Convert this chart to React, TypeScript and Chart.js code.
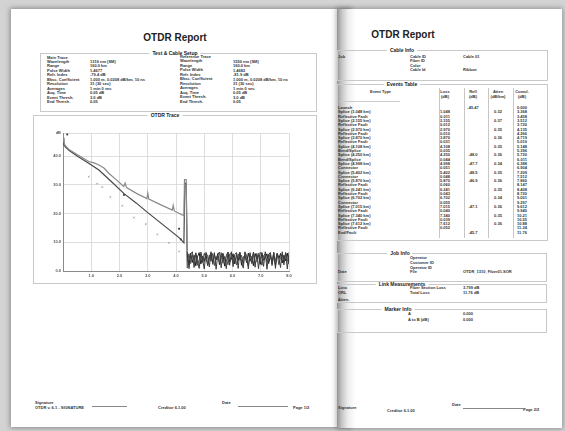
import React, { useEffect, useRef } from "react";
import { Chart, registerables } from "chart.js";

Chart.register(...registerables);

// ---------- OTDR trace data (distance km / level dB) ----------
const upperDistanceKm = [0, 0.03, 0.08, 0.21, 0.5, 0.91, 1.1, 1.27, 1.45, 1.62, 1.9, 2.15, 2.2, 2.25, 2.6, 2.97, 3.0, 3.04, 3.45, 3.87, 3.9, 3.94, 4.1, 4.28, 4.30, 4.36, 4.40];
const upperLossDb = [46.5, 44.8, 43.6, 42.3, 40.5, 38.1, 37.6, 36.9, 35.8, 34.0, 31.6, 29.4, 30.6, 29.0, 27.0, 25.2, 27.1, 25.0, 23.1, 21.2, 22.8, 20.9, 20.1, 19.2, 31.8, 31.8, 4.0];

const lowerDistanceKm = [0, 0.03, 0.08, 0.21, 0.5, 0.91, 1.27, 1.7, 2.16, 2.6, 2.99, 3.5, 4.11, 4.28, 4.31, 4.36, 4.40];
const lowerLossDb = [46.0, 44.0, 43.2, 42.0, 40.0, 37.5, 35.1, 31.2, 26.9, 23.6, 20.4, 16.4, 11.6, 9.8, 30.5, 30.5, 1.0];

const noiseDistanceKm = [4.40, 4.46, 4.52, 4.58, 4.64, 4.70, 4.76, 4.82, 4.88, 4.94, 5.00, 5.06, 5.12, 5.18, 5.24, 5.30, 5.36, 5.42, 5.48, 5.54, 5.60, 5.66, 5.72, 5.78, 5.84, 5.90, 5.96, 6.02, 6.08, 6.14, 6.20, 6.26, 6.32, 6.38, 6.44, 6.50, 6.56, 6.62, 6.68, 6.74, 6.80, 6.86, 6.92, 6.98, 7.04, 7.10, 7.16, 7.22, 7.28, 7.34, 7.40, 7.46, 7.52, 7.58, 7.64, 7.70, 7.76, 7.82, 7.88, 7.94, 8.00, 8.06];
const noiseTraceA = [5.8, 2.1, 6.2, 3.0, 5.5, 1.8, 4.9, 6.4, 2.4, 5.1, 3.3, 6.0, 1.9, 4.4, 6.3, 2.7, 5.6, 3.8, 6.1, 2.2, 4.7, 5.9, 1.7, 5.3, 6.5, 3.1, 4.2, 6.0, 2.5, 5.7, 3.6, 6.3, 2.0, 4.8, 5.4, 2.9, 6.2, 3.4, 5.0, 1.8, 6.1, 4.1, 5.6, 2.3, 6.4, 3.7, 4.6, 6.0, 2.6, 5.2, 3.2, 6.3, 1.9, 5.8, 4.3, 6.1, 2.8, 5.5, 3.5, 6.2, 2.4, 5.9];
const noiseTraceB = [3.2, 6.0, 2.6, 5.4, 4.1, 6.3, 2.0, 3.9, 5.8, 2.9, 6.2, 4.5, 2.3, 5.6, 3.4, 6.1, 1.9, 4.8, 5.2, 3.0, 6.4, 2.7, 5.0, 3.8, 2.2, 5.9, 6.2, 3.3, 4.6, 2.1, 6.0, 4.0, 5.5, 2.5, 6.3, 3.6, 1.8, 5.7, 4.4, 6.1, 2.8, 3.5, 6.2, 4.9, 2.0, 5.3, 6.0, 3.1, 4.2, 6.4, 2.4, 5.1, 3.7, 6.1, 2.2, 4.7, 5.8, 3.0, 6.3, 4.0, 2.6, 5.6];
const noiseTraceC = [6.6, 0.8, 5.9, 6.7, 1.2, 6.3, 3.4, 0.9, 6.6, 4.2, 0.7, 6.5, 5.1, 1.4, 6.7, 2.3, 6.4, 0.6, 5.7, 6.6, 1.1, 6.2, 4.4, 0.8, 6.5, 2.0, 6.7, 1.5, 5.8, 6.4, 0.9, 6.6, 3.2, 1.0, 6.7, 5.3, 0.7, 6.4, 2.6, 6.6, 1.3, 6.1, 0.8, 6.5, 5.6, 1.6, 6.7, 0.6, 5.9, 6.3, 1.9, 6.6, 0.9, 6.2, 4.8, 1.2, 6.7, 2.1, 6.4, 0.7, 6.5, 3.9];

const eventMarkerKm = [0.91, 1.21, 1.39, 1.68, 2.10, 2.51, 2.93, 3.34, 3.75, 4.11];
const eventMarkerDb = [32.8, 30.4, 29.2, 25.7, 22.7, 18.6, 16.3, 12.7, 9.8, 6.8];
const cursorKm = [0.15, 2.16, 4.11, 4.17];
const cursorDb = [47.5, 26.5, 14.7, 11.0];

const xTickValues = [0, 1, 2, 3, 4, 5, 6, 7, 8];
const yTickValues = [0, 10, 20, 30, 40];
const yAxisTop = 48;
const yAxisUnit = "dB";

// ---------- report texts ----------
const setupLeftLabels = ["Main Trace", "Wavelength", "Range", "Pulse Width", "Refr. Index", "Bksc. Coefficient", "Resolution", "Averages", "Acq. Time", "Event Thresh.", "End Thresh."];
const setupLeftValues = ["", "1310 nm (SM)", "160.0 km", "1.4677", "-79.4 dB", "1.000 m, 0.0208 dB/km, 10 ns", "31 (30 sec)", "1 min 0 sec", "0.05 dB", "3.0 dB", "0.05"];
const setupRightLabels = ["Reference Trace", "Wavelength", "Range", "Pulse Width", "Refr. Index", "Bksc. Coefficient", "Resolution", "Averages", "Acq. Time", "Event Thresh.", "End Thresh."];
const setupRightValues = ["", "1550 nm (SM)", "160.0 km", "1.4682", "-81.9 dB", "1.000 m, 0.0208 dB/km, 10 ns", "31 (30 sec)", "1 min 0 sec", "0.05 dB", "3.0 dB", "0.05"];

const eventTypes = ["Launch", "Splice (1.048 km)", "Reflective Fault", "Splice (2.155 km)", "Reflective Fault", "Splice (2.970 km)", "Reflective Fault", "Splice (3.870 km)", "Reflective Fault", "Splice (4.108 km)", "Bend/Splice", "Splice (4.250 km)", "Bend/Splice", "Splice (4.998 km)", "Connector", "Splice (5.402 km)", "Connector", "Splice (5.870 km)", "Reflective Fault", "Splice (6.241 km)", "Reflective Fault", "Splice (6.702 km)", "Connector", "Splice (7.015 km)", "Reflective Fault", "Splice (7.340 km)", "Reflective Fault", "Splice (7.612 km)", "Reflective Fault", "End/Fault"];
const eventLoss = ["", "1.048", "0.011", "2.155", "0.012", "2.970", "0.010", "3.870", "0.031", "4.108", "0.035", "4.250", "0.044", "4.998", "0.051", "5.402", "0.048", "5.870", "0.060", "6.241", "0.043", "6.702", "0.055", "7.015", "0.040", "7.340", "0.039", "7.612", "0.052", ""];
const eventRefl = ["-45.47", "", "", "", "", "", "", "", "", "", "", "-48.0", "", "-47.7", "", "-48.5", "", "-46.9", "", "", "", "", "", "-47.1", "", "", "", "", "", "-45.7"];
const eventAtten = ["", "0.32", "", "0.37", "", "0.35", "", "0.36", "", "0.35", "", "0.36", "", "0.34", "", "0.35", "", "0.36", "", "0.35", "", "0.34", "", "0.36", "", "0.35", "", "0.36", "", ""];
const eventCumul = ["0.000", "3.368", "3.458", "3.512", "3.720", "4.135", "4.266", "4.719", "5.010", "5.148", "5.396", "5.720", "6.011", "6.388", "6.904", "7.209", "7.512", "7.860", "8.147", "8.408", "8.720", "9.001", "9.297", "9.612", "9.940", "10.21", "10.55", "10.88", "11.24", "11.76"];

type TProps = { x: number; y: number; s?: number; w?: number; c?: string; center?: boolean; children?: React.ReactNode };
function T({ x, y, s = 4, w = 700, c = "#333", center = false, children }: TProps) {
  return (
    <div
      style={{
        position: "absolute",
        left: x,
        top: y,
        fontSize: s,
        fontWeight: w,
        color: c,
        lineHeight: 1,
        whiteSpace: "nowrap",
        transform: center ? "translateX(-50%)" : undefined,
      }}
    >
      {children}
    </div>
  );
}

function Box({ x, y, w, h, title, tx }: { x: number; y: number; w: number; h: number; title: string; tx: number }) {
  return (
    <>
      <div style={{ position: "absolute", left: x, top: y, width: w, height: h, border: "1px solid #c9c9c9", boxSizing: "border-box" }} />
      <div
        style={{
          position: "absolute",
          left: tx,
          top: y - 2.5,
          transform: "translateX(-50%)",
          background: "#fff",
          padding: "0 3px",
          fontSize: 5,
          fontWeight: 700,
          color: "#222",
          lineHeight: 1,
          whiteSpace: "nowrap",
        }}
      >
        {title}
      </div>
    </>
  );
}

function Line({ x, y, w, h = 1, c = "#bbb" }: { x: number; y: number; w: number; h?: number; c?: string }) {
  return <div style={{ position: "absolute", left: x, top: y, width: w, height: h, background: c }} />;
}

function TraceChart() {
  const ref = useRef<HTMLCanvasElement>(null);
  useEffect(() => {
    const pts = (xs: number[], ys: number[]) => xs.map((x, i) => ({ x, y: ys[i] }));
    const chart = new Chart(ref.current as HTMLCanvasElement, {
      type: "scatter",
      data: {
        datasets: [
          { data: pts(noiseDistanceKm, noiseTraceC), showLine: true, borderColor: "#3c3c3c", borderWidth: 1, pointRadius: 0 },
          { data: pts(noiseDistanceKm, noiseTraceB), showLine: true, borderColor: "#4a4a4a", borderWidth: 1, pointRadius: 0 },
          { data: pts(noiseDistanceKm, noiseTraceA), showLine: true, borderColor: "#1a1a1a", borderWidth: 1, pointRadius: 0 },
          { data: pts(upperDistanceKm, upperLossDb), showLine: true, borderColor: "#8a8a8a", borderWidth: 1.2, pointRadius: 0 },
          { data: pts(lowerDistanceKm, lowerLossDb), showLine: true, borderColor: "#474747", borderWidth: 1.2, pointRadius: 0 },
          { data: pts(eventMarkerKm, eventMarkerDb), showLine: false, pointStyle: "crossRot", pointRadius: 1.1, borderColor: "#9a9a9a", borderWidth: 0.8 },
          { data: pts(cursorKm, cursorDb), showLine: false, pointStyle: "rect", pointRadius: 1.3, backgroundColor: "#333", borderColor: "#333", borderWidth: 0 },
        ],
      } as any,
      options: {
        animation: false,
        responsive: false,
        maintainAspectRatio: false,
        layout: { padding: { left: 0, top: 13, right: 26, bottom: 0 } },
        plugins: { legend: { display: false }, tooltip: { enabled: false } },
        scales: {
          x: {
            type: "linear",
            min: 0,
            max: 8,
            afterBuildTicks: (s: any) => {
              s.ticks = xTickValues.map((v) => ({ value: v }));
            },
            afterFit: (s: any) => {
              s.height = 9;
            },
            ticks: {
              autoSkip: false,
              maxRotation: 0,
              padding: 2,
              color: "#555",
              font: { size: 4, weight: "bold", family: "Liberation Sans" },
              callback: (v: any) => (Number(v) === 0 ? "" : Number(v).toFixed(1)),
            },
            grid: { color: "#d6d6d6", lineWidth: 0.8, drawTicks: false },
            border: { color: "#8a8a8a", width: 1 },
          },
          y: {
            type: "linear",
            min: 0,
            max: yAxisTop,
            afterBuildTicks: (s: any) => {
              s.ticks = [...yTickValues, yAxisTop].map((v) => ({ value: v }));
            },
            afterFit: (s: any) => {
              s.width = 28;
            },
            ticks: {
              autoSkip: false,
              padding: 2,
              color: "#555",
              font: { size: 4, weight: "bold", family: "Liberation Sans" },
              callback: (v: any) => (Number(v) === yAxisTop ? yAxisUnit : Number(v).toFixed(1)),
            },
            grid: { color: "#d6d6d6", lineWidth: 0.8, drawTicks: false },
            border: { color: "#8a8a8a", width: 1 },
          },
        },
      } as any,
    });
    return () => chart.destroy();
  }, []);
  return <canvas ref={ref} width={280} height={160} style={{ position: "absolute", left: 35, top: 120, width: 280, height: 160 }} />;
}

export default function App() {
  const rowH = 4.45;
  const evH = 4.3;
  return (
    <div
      style={{
        position: "fixed",
        left: 0,
        top: 0,
        width: 565,
        height: 431,
        overflow: "hidden",
        background: "#d3d3d3",
        fontFamily: "'Liberation Sans', Arial, sans-serif",
        filter: "blur(0.45px)",
      }}
    >
      {/* left page */}
      <div style={{ position: "absolute", left: 11, top: 9, width: 340, height: 418, background: "#fff", boxShadow: "0 0 5px 1px rgba(0,0,0,0.35)" }} />
      <T x={175} y={33} s={10} center c="#222">OTDR Report</T>
      <Box x={40} y={53} w={277} h={59} title="Test & Cable Setup" tx={175} />
      {setupLeftLabels.map((l, i) => (
        <T key={"ll" + i} x={47} y={55.5 + i * rowH}>{l}</T>
      ))}
      {setupLeftValues.map((v, i) => (
        <T key={"lv" + i} x={90} y={55.5 + i * rowH}>{v}</T>
      ))}
      {setupRightLabels.map((l, i) => (
        <T key={"rl" + i} x={180} y={55 + i * rowH}>{l}</T>
      ))}
      {setupRightValues.map((v, i) => (
        <T key={"rv" + i} x={233} y={55.5 + i * rowH}>{v}</T>
      ))}
      <Box x={33} y={115} w={284} h={169} title="OTDR Trace" tx={165} />
      <TraceChart />
      {/* left footer */}
      <T x={35} y={401}>Signature</T>
      <T x={35} y={405.5}>OTDR v. 6.1 - SIGNATURE</T>
      <Line x={92} y={405.5} w={35} c="#888" />
      <T x={158} y={406}>Creditor 6.1.00</T>
      <T x={222} y={401}>Date</T>
      <Line x={238} y={405.5} w={50} c="#888" />
      <T x={293} y={406}>Page 1/2</T>

      {/* right page */}
      <div style={{ position: "absolute", left: 337, top: 9, width: 225, height: 419, background: "#fff", boxShadow: "0 0 5px 1px rgba(0,0,0,0.3)" }} />
      <div
        style={{
          position: "absolute",
          left: 337,
          top: 9,
          width: 20,
          height: 419,
          background: "linear-gradient(to right, rgba(0,0,0,0.42) 0px, rgba(0,0,0,0.22) 5px, rgba(0,0,0,0.07) 11px, rgba(0,0,0,0) 19px)",
        }}
      />
      <T x={403} y={30} s={10} center c="#222">OTDR Report</T>

      <Box x={337} y={50} w={211} h={31} title="Cable Info" tx={402} />
      <T x={338} y={54.5}>Job</T>
      <T x={410} y={54.5}>Cable ID</T>
      <T x={463} y={54.5}>Cable 01</T>
      <T x={410} y={59}>Fiber ID</T>
      <T x={410} y={63.5}>Color</T>
      <T x={410} y={68}>Cable Id</T>
      <T x={463} y={68}>Ribbon</T>

      <Box x={337} y={84} w={211} h={157} title="Events Table" tx={402} />
      <T x={370} y={90}>Event Type</T>
      {[
        ["Loss", "(dB)", 445],
        ["Refl", "(dB)", 473],
        ["Atten", "(dB/km)", 498],
        ["Cumul.", "(dB)", 522],
      ].map(([a, b, x]) => (
        <React.Fragment key={String(a)}>
          <T x={x as number} y={90} center>{a}</T>
          <T x={x as number} y={95} center>{b}</T>
        </React.Fragment>
      ))}
      <Line x={340} y={101} w={60} c="#ccc" />
      {[439, 464, 488, 513].map((x) => (
        <div key={x} style={{ position: "absolute", left: x, top: 88, width: 1, height: 150, background: "#c6c6c6" }} />
      ))}
      {eventTypes.map((t, i) => (
        <React.Fragment key={"ev" + i}>
          <T x={338} y={106 + i * evH}>{t}</T>
          <T x={445} y={106 + i * evH} center>{eventLoss[i]}</T>
          <T x={473} y={106 + i * evH} center>{eventRefl[i]}</T>
          <T x={498} y={106 + i * evH} center>{eventAtten[i]}</T>
          <T x={522} y={106 + i * evH} center>{eventCumul[i]}</T>
        </React.Fragment>
      ))}

      <Box x={337} y={253} w={210} h={29} title="Job Info" tx={400} />
      <T x={410} y={256}>Operator</T>
      <T x={410} y={261}>Customer ID</T>
      <T x={410} y={265.5}>Operator ID</T>
      <T x={410} y={270}>File</T>
      <T x={463} y={270}>OTDR_1310_Fiber01.SOR</T>
      <T x={338} y={270}>Date</T>

      <Box x={337} y={284} w={210} h={19} title="Link Measurements" tx={402} />
      <T x={410} y={286}>Fiber Section Loss</T>
      <T x={463} y={286}>3.799 dB</T>
      <T x={410} y={291}>Total Loss</T>
      <T x={463} y={291}>11.76 dB</T>
      <T x={338} y={286}>Loss</T>
      <T x={338} y={291}>ORL</T>
      <T x={338} y={298}>Atten.</T>

      <Box x={337} y={309} w={210} h={24} title="Marker Info" tx={398} />
      <T x={408} y={312}>A</T>
      <T x={463} y={312}>0.000</T>
      <T x={408} y={318}>A to B (dB)</T>
      <T x={463} y={318}>0.000</T>

      {/* right footer */}
      <T x={338} y={406}>Signature</T>
      <T x={387} y={409}>Creditor 6.1.00</T>
      <T x={452} y={403}>Date</T>
      <Line x={463} y={408} w={60} c="#888" />
      <T x={523} y={408}>Page 2/2</T>
    </div>
  );
}
